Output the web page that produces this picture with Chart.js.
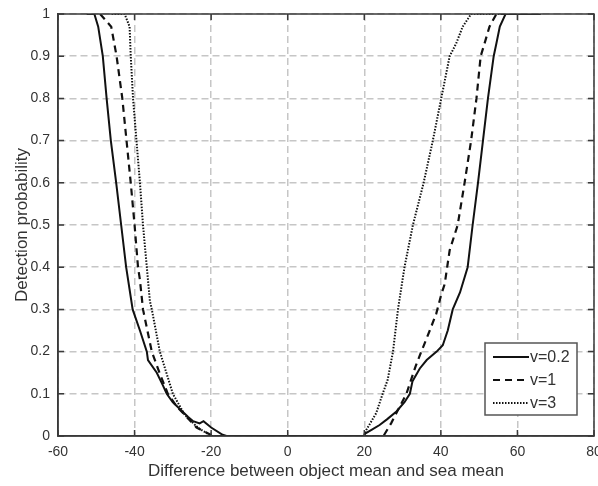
<!DOCTYPE html>
<html>
<head>
<meta charset="utf-8">
<script src="https://cdn.jsdelivr.net/npm/chart.js@4/dist/chart.umd.min.js"></script>
<style>
  html, body { margin: 0; padding: 0; background: #fff; }
  #wrap { width: 598px; height: 486px; }
</style>
</head>
<body>
<div id="wrap"><canvas id="c" width="598" height="486"></canvas></div>
<script>
// Axis ranges
const xMin = -60, xMax = 80, xStep = 20;
const yMin = 0, yMax = 1, yStep = 0.1;

// Series labels
const seriesLabels = ['v=0.2', 'v=1', 'v=3'];

// v = 0.2
const v02X = [-52.5,-50.5,-49.5,-48.3,-47.3,-46.2,-44.8,-43.5,-42.2,-40.5,-38.6,-36.8,-36.5,-34.2,-32.6,-31.6,-30,-27.7,-26,-24.7,-23,-22,-20,-17,-16,
              20,20.1,22,24,26,28.4,30.5,31.9,32.6,34.5,36.3,38.9,40.5,41.8,43.1,45,47,48.3,49.7,51,52.3,53.8,54.5,55.4,56.9,66];
const v02Y = [1,1,0.97,0.9,0.8,0.7,0.6,0.5,0.4,0.3,0.25,0.2,0.18,0.15,0.12,0.1,0.08,0.06,0.045,0.035,0.03,0.035,0.02,0.003,0,
              0,0.005,0.015,0.026,0.04,0.058,0.08,0.1,0.13,0.16,0.18,0.2,0.215,0.25,0.3,0.34,0.4,0.5,0.6,0.7,0.8,0.9,0.93,0.97,1,1];

// v = 1
const v1X = [-49,-46.1,-44.7,-43.2,-42.1,-41,-40,-39.1,-38.6,-37.8,-35.5,-33.5,-31.3,-29,-26.9,-23.8,-19.5,
             25,27,29,31,33.4,34.9,37.1,38.8,40.1,41,42.3,44.4,46.2,47.9,49.3,50.4,51.4,52.7,54.5,66];
const v1Y = [1,0.97,0.9,0.8,0.7,0.6,0.5,0.4,0.37,0.3,0.2,0.15,0.1,0.07,0.05,0.02,0,
             0,0.03,0.065,0.1,0.165,0.2,0.25,0.29,0.335,0.36,0.44,0.5,0.6,0.7,0.8,0.9,0.93,0.97,1,1];

// v = 3
const v3X = [-46,-42.6,-41.3,-41,-40.4,-39.5,-38.6,-37.8,-36.8,-36,-35.5,-33.4,-30,-26.9,-23.5,-20,
             20,20.5,23.1,24.8,26.1,27.5,28.8,30.5,32.7,35.5,37.9,40.1,42.3,44,45.7,47.9,66];
const v3Y = [1,1,0.97,0.9,0.8,0.7,0.6,0.5,0.4,0.32,0.3,0.2,0.1,0.05,0.02,0,
             0,0.014,0.054,0.1,0.133,0.2,0.3,0.4,0.5,0.6,0.7,0.8,0.9,0.93,0.97,1,1];

const toPoints = (xs, ys) => xs.map((x, i) => ({ x: x, y: ys[i] }));

const FONT = '"Liberation Sans", Arial, Helvetica, sans-serif';
const TEXT = '#333333';
const FRAME = '#3a3a3a';

// Full box frame with inward tick marks on all four sides
const framePlugin = {
  id: 'frameBox',
  afterDatasetsDraw(chart) {
    const { ctx, chartArea: a, scales } = chart;
    const len = 6;
    ctx.save();
    ctx.strokeStyle = FRAME;
    ctx.lineWidth = 1.5;
    ctx.beginPath();
    scales.x.ticks.forEach(t => {
      const px = scales.x.getPixelForValue(t.value);
      ctx.moveTo(px, a.bottom); ctx.lineTo(px, a.bottom - len);
      ctx.moveTo(px, a.top); ctx.lineTo(px, a.top + len);
    });
    scales.y.ticks.forEach(t => {
      const py = scales.y.getPixelForValue(t.value);
      ctx.moveTo(a.left, py); ctx.lineTo(a.left + len, py);
      ctx.moveTo(a.right, py); ctx.lineTo(a.right - len, py);
    });
    ctx.stroke();
    ctx.strokeRect(a.left, a.top, a.right - a.left, a.bottom - a.top);
    ctx.restore();
  }
};

// Boxed legend in the lower right corner of the plot area
const legendPlugin = {
  id: 'boxLegend',
  afterDraw(chart) {
    const { ctx, chartArea: a } = chart;
    const left = a.right - 109, right = a.right - 17;
    const top = a.bottom - 93, bottom = a.bottom - 21;
    ctx.save();
    ctx.fillStyle = '#ffffff';
    ctx.fillRect(left, top, right - left, bottom - top);
    ctx.strokeStyle = '#555555';
    ctx.lineWidth = 1.5;
    ctx.strokeRect(left, top, right - left, bottom - top);
    chart.data.datasets.forEach((ds, i) => {
      const y = top + 14 + i * 23;
      ctx.save();
      ctx.strokeStyle = ds.borderColor;
      ctx.lineWidth = ds.borderWidth;
      ctx.setLineDash(ds.borderDash || []);
      ctx.beginPath();
      ctx.moveTo(left + 8, y);
      ctx.lineTo(left + 44, y);
      ctx.stroke();
      ctx.restore();
      ctx.fillStyle = TEXT;
      ctx.font = '16px ' + FONT;
      ctx.textBaseline = 'middle';
      ctx.textAlign = 'left';
      ctx.fillText(ds.label, left + 45, y + 1);
    });
    ctx.restore();
  }
};

Chart.defaults.font.family = FONT;
Chart.defaults.color = TEXT;

new Chart(document.getElementById('c'), {
  type: 'line',
  data: {
    datasets: [
      { label: seriesLabels[0], data: toPoints(v02X, v02Y), borderColor: '#111111', borderWidth: 2, borderDash: [] },
      { label: seriesLabels[1], data: toPoints(v1X, v1Y), borderColor: '#111111', borderWidth: 2.2, borderDash: [7, 5] },
      { label: seriesLabels[2], data: toPoints(v3X, v3Y), borderColor: '#111111', borderWidth: 2, borderDash: [1.5, 1.5] }
    ]
  },
  options: {
    responsive: false,
    animation: false,
    devicePixelRatio: 1,
    layout: { padding: { left: 6, top: 14, right: 4, bottom: 0 } },
    elements: { point: { radius: 0 }, line: { tension: 0, fill: false } },
    plugins: { legend: { display: false }, tooltip: { enabled: false } },
    scales: {
      x: {
        type: 'linear',
        min: xMin, max: xMax,
        ticks: { stepSize: xStep, font: { size: 14 }, color: TEXT, padding: 8, maxRotation: 0 },
        grid: { color: '#c6c6c6', lineWidth: 1.5, drawTicks: false },
        border: { display: true, color: FRAME, width: 1.5, dash: [7, 4] },
        title: { display: true, text: 'Difference between object mean and sea mean', font: { size: 17 }, color: TEXT, padding: { top: 4, bottom: 4 } },
        afterFit(s) { s.height = 50; s.paddingLeft = 0; s.paddingRight = 0; }
      },
      y: {
        type: 'linear',
        min: yMin, max: yMax,
        ticks: { stepSize: yStep, font: { size: 14 }, color: TEXT, padding: 8,
                 callback: v => String(Number(v.toFixed(1))) },
        grid: { color: '#c6c6c6', lineWidth: 1.5, drawTicks: false },
        border: { display: true, color: FRAME, width: 1.5, dash: [7, 4] },
        title: { display: true, text: 'Detection probability', font: { size: 17 }, color: TEXT, padding: { top: 6, bottom: 4 } },
        afterFit(s) { s.width = 52; s.paddingTop = 0; s.paddingBottom = 0; }
      }
    }
  },
  plugins: [framePlugin, legendPlugin]
});
</script>
</body>
</html>
